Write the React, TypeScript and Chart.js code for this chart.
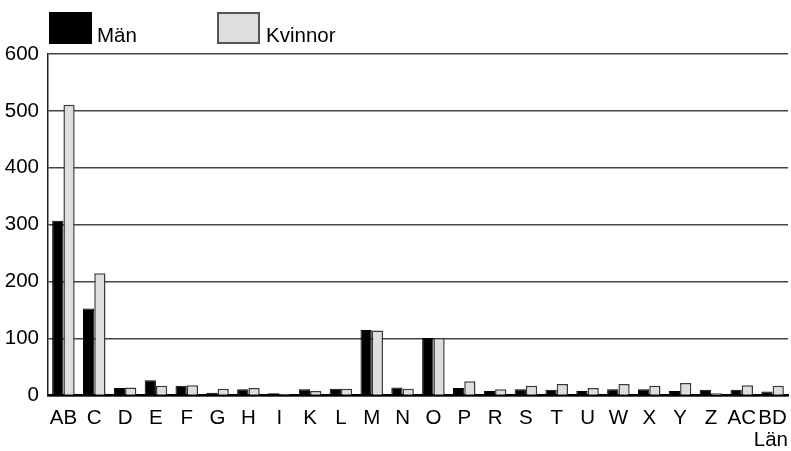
import React, { useEffect, useRef } from "react";
import { Chart, registerables } from "chart.js";

Chart.register(...registerables);

const categories = ["AB", "C", "D", "E", "F", "G", "H", "I", "K", "L", "M", "N", "O", "P", "R", "S", "T", "U", "W", "X", "Y", "Z", "AC", "BD"];
const menValues = [307, 153, 13, 27, 17, 5, 11, 4, 11, 12, 115, 14, 101, 13, 8, 11, 10, 8, 11, 11, 8, 10, 10, 7];
const womenValues = [511, 215, 14, 17, 18, 12, 13, 3, 8, 12, 114, 12, 101, 25, 11, 17, 20, 13, 20, 17, 22, 4, 18, 17];
const seriesNames = ["Män", "Kvinnor"];
const axisTitle = "Län";

const FONT = "'Liberation Sans', Arial, sans-serif";
const FS = 20.5;
const GREY = "#dedede";

export default function App() {
  const ref = useRef<HTMLCanvasElement | null>(null);

  useEffect(() => {
    if (!ref.current) return;
    const chart = new Chart(ref.current, {
      type: "bar",
      data: {
        labels: categories,
        datasets: [
          {
            label: seriesNames[0],
            data: menValues,
            backgroundColor: "#000000",
            borderColor: "#000000",
            borderWidth: 1,
            categoryPercentage: 0.73,
            barPercentage: 1,
          },
          {
            label: seriesNames[1],
            data: womenValues,
            backgroundColor: GREY,
            borderColor: "#3a3a3a",
            borderWidth: 1.5,
            categoryPercentage: 0.73,
            barPercentage: 1,
          },
        ],
      },
      options: {
        responsive: false,
        animation: false,
        layout: { padding: { top: 54, right: 3, bottom: 0, left: 0 } },
        plugins: { legend: { display: false }, tooltip: { enabled: false } },
        scales: {
          x: {
            grid: { display: false },
            border: { display: true, color: "#000000", width: 2.5 },
            ticks: { color: "#000", font: { family: FONT, size: FS }, padding: 3, autoSkip: false, maxRotation: 0 },
            title: {
              display: true,
              text: axisTitle,
              align: "end",
              color: "#000",
              font: { family: FONT, size: FS },
              padding: { top: 0, bottom: -2 },
            },
            afterFit: (s: any) => {
              s.height = 55.5;
            },
          },
          y: {
            min: 0,
            max: 600,
            ticks: { stepSize: 100, color: "#000", font: { family: FONT, size: FS }, padding: 9 },
            grid: { color: "#444444", lineWidth: 1.5, drawTicks: false },
            border: { display: true, color: "#222222", width: 1.5 },
            afterFit: (s: any) => {
              s.width = 48;
            },
          },
        },
      },
    });
    return () => chart.destroy();
  }, []);

  const boxBase: React.CSSProperties = {
    position: "absolute",
    top: 12,
    width: 43,
    height: 32,
    boxSizing: "border-box",
  };
  const textBase: React.CSSProperties = {
    position: "absolute",
    top: 23,
    fontFamily: FONT,
    fontSize: FS,
    lineHeight: "23px",
    color: "#000",
    whiteSpace: "nowrap",
  };

  return (
    <div style={{ position: "absolute", left: 0, top: 0, width: 791, height: 451, background: "#fff" }}>
      <canvas ref={ref} width={791} height={451} style={{ position: "absolute", left: 0, top: 0 }} />
      <div style={{ ...boxBase, left: 49, background: "#000", border: "1px solid #000" }} />
      <div style={{ ...textBase, left: 97 }}>{seriesNames[0]}</div>
      <div style={{ ...boxBase, left: 217, background: GREY, border: "2px solid #555" }} />
      <div style={{ ...textBase, left: 266 }}>{seriesNames[1]}</div>
    </div>
  );
}
